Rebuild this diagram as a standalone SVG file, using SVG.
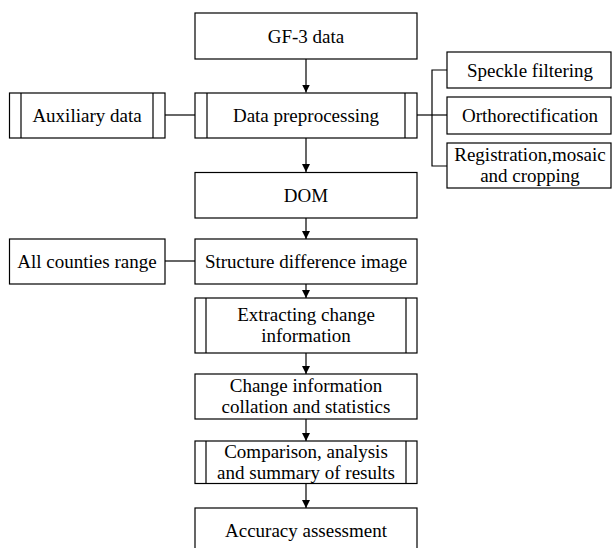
<svg xmlns="http://www.w3.org/2000/svg" width="612" height="548" viewBox="0 0 612 548">
<style>
.box{fill:#fff;stroke:#000;stroke-width:1.2}
.ln{fill:none;stroke:#000;stroke-width:1.2}
text{font-family:"Liberation Serif","Times New Roman",serif;font-size:19px;fill:#000;text-anchor:middle}
</style>
<defs>
<marker id="ah" markerWidth="8" markerHeight="9" refX="8" refY="4" orient="auto" markerUnits="userSpaceOnUse">
<path d="M0,0 L8,4 L0,8 Z" fill="#000"/>
</marker>
</defs>
<rect width="612" height="548" fill="#fff"/>
<g id="connectors">
<line class="ln" x1="306" y1="59" x2="306" y2="92.5" marker-end="url(#ah)"/>
<line class="ln" x1="306" y1="138" x2="306" y2="172" marker-end="url(#ah)"/>
<line class="ln" x1="306" y1="218" x2="306" y2="239" marker-end="url(#ah)"/>
<line class="ln" x1="306" y1="284" x2="306" y2="298" marker-end="url(#ah)"/>
<line class="ln" x1="306" y1="353" x2="306" y2="374" marker-end="url(#ah)"/>
<line class="ln" x1="306" y1="419" x2="306" y2="441" marker-end="url(#ah)"/>
<line class="ln" x1="306" y1="483" x2="306" y2="508" marker-end="url(#ah)"/>
<line class="ln" x1="165" y1="115" x2="195" y2="115"/>
<line class="ln" x1="165" y1="261" x2="195" y2="261"/>
<line class="ln" x1="417" y1="115" x2="447" y2="115"/>
<path class="ln" d="M447,70 H432 V166 H447"/>
</g>
<g id="gf3">
<rect class="box" x="195" y="13" width="222" height="46"/>
<text x="306" y="42.5">GF-3 data</text>
</g>
<g id="preprocessing">
<rect class="box" x="195" y="93" width="222" height="45"/>
<line class="ln" x1="207" y1="93" x2="207" y2="138"/>
<line class="ln" x1="405" y1="93" x2="405" y2="138"/>
<text x="306" y="121.5">Data preprocessing</text>
</g>
<g id="auxiliary">
<rect class="box" x="9.5" y="93" width="155.5" height="45"/>
<line class="ln" x1="21" y1="93" x2="21" y2="138"/>
<line class="ln" x1="153" y1="93" x2="153" y2="138"/>
<text x="87" y="121.5">Auxiliary data</text>
</g>
<g id="speckle">
<rect class="box" x="447" y="52" width="164" height="36"/>
<text x="530" y="76.5">Speckle filtering</text>
</g>
<g id="ortho">
<rect class="box" x="447" y="97" width="164" height="37"/>
<text x="530" y="121.5">Orthorectification</text>
</g>
<g id="registration">
<rect class="box" x="447" y="143" width="164" height="45"/>
<text x="530" y="161">Registration,mosaic</text>
<text x="530" y="182">and cropping</text>
</g>
<g id="dom">
<rect class="box" x="195" y="172.5" width="222" height="45.5"/>
<text x="306" y="201.5">DOM</text>
</g>
<g id="structure">
<rect class="box" x="195" y="239" width="222" height="45"/>
<text x="306" y="267.5">Structure difference image</text>
</g>
<g id="counties">
<rect class="box" x="9.5" y="239" width="155.5" height="45"/>
<text x="87" y="267.5">All counties range</text>
</g>
<g id="extracting">
<rect class="box" x="195" y="298" width="222" height="55"/>
<line class="ln" x1="206" y1="298" x2="206" y2="353"/>
<line class="ln" x1="406" y1="298" x2="406" y2="353"/>
<text x="306" y="321">Extracting change</text>
<text x="306" y="342">information</text>
</g>
<g id="collation">
<rect class="box" x="195" y="374" width="222" height="45"/>
<text x="306" y="392">Change information</text>
<text x="306" y="413">collation and statistics</text>
</g>
<g id="comparison">
<rect class="box" x="195" y="441" width="222" height="42.5"/>
<line class="ln" x1="206" y1="441" x2="206" y2="483.5"/>
<line class="ln" x1="406" y1="441" x2="406" y2="483.5"/>
<text x="306" y="458">Comparison, analysis</text>
<text x="306" y="479">and summary of results</text>
</g>
<g id="accuracy">
<rect class="box" x="195" y="508" width="222" height="46"/>
<text x="306" y="537">Accuracy assessment</text>
</g>
</svg>
